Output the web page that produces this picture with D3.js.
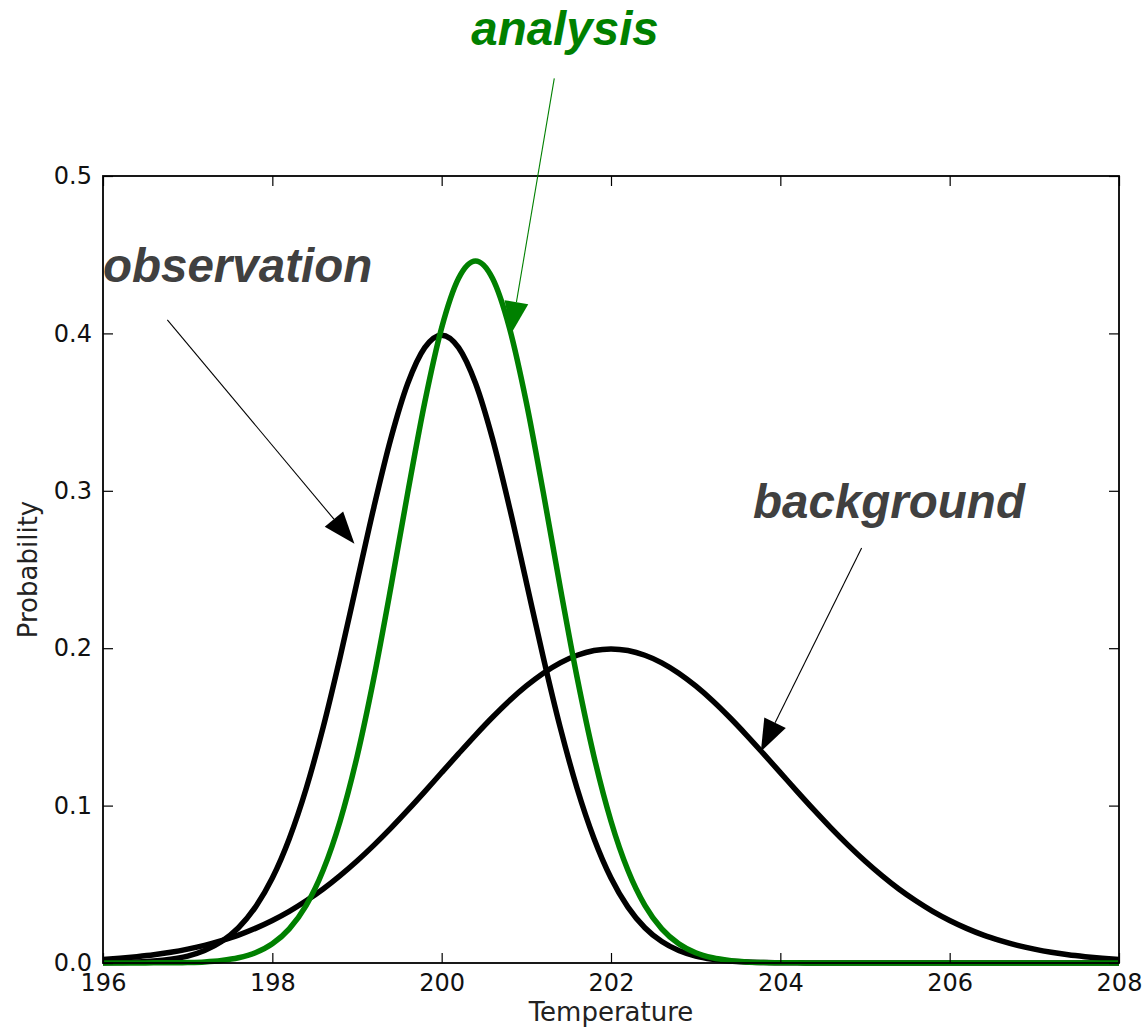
<!DOCTYPE html>
<html>
<head>
<meta charset="utf-8">
<script src="https://d3js.org/d3.v7.min.js"></script>
<style>
  html, body { margin: 0; padding: 0; background: #fff; }
  svg { display: block; }
</style>
</head>
<body>
<svg id="chart" width="1145" height="1028"></svg>
<script>
// Temperature grid, 196 to 208 in steps of 0.2
const temperature = d3.range(61).map(i => +(196 + i * 0.2).toFixed(1));

// Observation probability density (peak 0.399 at 200)
const observation = [
  0.0001, 0.0003, 0.0006, 0.0012, 0.0024, 0.0044, 0.0079, 0.0136, 0.0224, 0.0355,
  0.0540, 0.0790, 0.1109, 0.1497, 0.1942, 0.2420, 0.2897, 0.3332, 0.3683, 0.3910,
  0.3989,
  0.3910, 0.3683, 0.3332, 0.2897, 0.2420, 0.1942, 0.1497, 0.1109, 0.0790, 0.0540,
  0.0355, 0.0224, 0.0136, 0.0079, 0.0044, 0.0024, 0.0012, 0.0006, 0.0003, 0.0001,
  0.0001, 0.0000, 0.0000, 0.0000, 0.0000, 0.0000, 0.0000, 0.0000, 0.0000, 0.0000,
  0.0000, 0.0000, 0.0000, 0.0000, 0.0000, 0.0000, 0.0000, 0.0000, 0.0000, 0.0000
];

// Background probability density (peak 0.199 at 202)
const background = [
  0.0022, 0.0030, 0.0040, 0.0052, 0.0068, 0.0088, 0.0112, 0.0142, 0.0177, 0.0220,
  0.0270, 0.0328, 0.0395, 0.0470, 0.0555, 0.0648, 0.0749, 0.0857, 0.0971, 0.1089,
  0.1210, 0.1330, 0.1448, 0.1561, 0.1666, 0.1760, 0.1841, 0.1907, 0.1955, 0.1985,
  0.1995,
  0.1985, 0.1955, 0.1907, 0.1841, 0.1760, 0.1666, 0.1561, 0.1448, 0.1330, 0.1210,
  0.1089, 0.0971, 0.0857, 0.0749, 0.0648, 0.0555, 0.0470, 0.0395, 0.0328, 0.0270,
  0.0220, 0.0177, 0.0142, 0.0112, 0.0088, 0.0068, 0.0052, 0.0040, 0.0030, 0.0022
];

// Analysis probability density (peak 0.446 at 200.4)
const analysis = [
  0.0000, 0.0000, 0.0000, 0.0001, 0.0001, 0.0003, 0.0007, 0.0016, 0.0033, 0.0065,
  0.0122, 0.0217, 0.0366, 0.0589, 0.0901, 0.1310, 0.1813, 0.2387, 0.2990, 0.3562,
  0.4036, 0.4350,
  0.4460,
  0.4350, 0.4036, 0.3562, 0.2990, 0.2387, 0.1813, 0.1310, 0.0901, 0.0589, 0.0366,
  0.0217, 0.0122, 0.0065, 0.0033, 0.0016, 0.0007, 0.0003, 0.0001, 0.0001, 0.0000,
  0.0000, 0.0000, 0.0000, 0.0000, 0.0000, 0.0000, 0.0000, 0.0000, 0.0000, 0.0000,
  0.0000, 0.0000, 0.0000, 0.0000, 0.0000, 0.0000, 0.0000, 0.0000
];

const xTicks = [196, 198, 200, 202, 204, 206, 208];
const yTicks = [0.0, 0.1, 0.2, 0.3, 0.4, 0.5];

// Labels with the point each arrow starts from and the point it hits (data units)
const annotations = [
  { text: "observation", color: "#404040", from: [196.76, 0.4086], to: [198.97, 0.2664] },
  { text: "analysis",    color: "#008000", from: [201.33, 0.5620], to: [200.82, 0.3998] },
  { text: "background",  color: "#404040", from: [204.96, 0.2636], to: [203.77, 0.1344] }
];

const svg = d3.select("#chart");
const margin = { left: 103, right: 26, top: 176, bottom: 65 };
const W = 1145, H = 1028;
const iw = W - margin.left - margin.right;
const ih = H - margin.top - margin.bottom;

const x = d3.scaleLinear().domain([196, 208]).range([margin.left, margin.left + iw]);
const y = d3.scaleLinear().domain([0, 0.5]).range([margin.top + ih, margin.top]);

const tickFont = "'DejaVu Sans', sans-serif";

// Curves
const line = d3.line().x((d, i) => x(temperature[i])).y(d => y(d)).curve(d3.curveMonotoneX);
const series = [
  { values: background,  color: "#000000" },
  { values: observation, color: "#000000" },
  { values: analysis,    color: "#008000" }
];
svg.append("g").selectAll("path").data(series).join("path")
  .attr("d", d => line(d.values))
  .attr("fill", "none")
  .attr("stroke", d => d.color)
  .attr("stroke-width", 5.5)
  .attr("stroke-linejoin", "round");

// Axes with inward ticks on all four sides
const tickLen = 10;
const bottomAxis = d3.axisBottom(x).tickValues(xTicks).tickSizeInner(-tickLen).tickSizeOuter(0).tickPadding(11).tickFormat(d3.format("d"));
const topAxis = d3.axisTop(x).tickValues(xTicks).tickSizeInner(-tickLen).tickSizeOuter(0).tickFormat("");
const leftAxis = d3.axisLeft(y).tickValues(yTicks).tickSizeInner(-tickLen).tickSizeOuter(0).tickPadding(11).tickFormat(d3.format(".1f"));
const rightAxis = d3.axisRight(y).tickValues(yTicks).tickSizeInner(-tickLen).tickSizeOuter(0).tickFormat("");

function styleAxis(g) {
  g.select(".domain").remove();
  g.selectAll(".tick line").attr("stroke", "#000").attr("stroke-width", 1.2);
  g.selectAll(".tick text").attr("fill", "#111").style("font-family", tickFont).style("font-size", "24px");
}

svg.append("g").attr("transform", `translate(0,${margin.top + ih})`).call(bottomAxis).call(styleAxis);
svg.append("g").attr("transform", `translate(0,${margin.top})`).call(topAxis).call(styleAxis);
svg.append("g").attr("transform", `translate(${margin.left},0)`).call(leftAxis).call(styleAxis);
svg.append("g").attr("transform", `translate(${margin.left + iw},0)`).call(rightAxis).call(styleAxis);

// Frame
svg.append("rect")
  .attr("x", margin.left).attr("y", margin.top)
  .attr("width", iw).attr("height", ih)
  .attr("fill", "none").attr("stroke", "#000").attr("stroke-width", 1.8);

// Axis titles
svg.append("text")
  .attr("x", x(202)).attr("y", 1021)
  .attr("text-anchor", "middle")
  .style("font-family", tickFont).style("font-size", "26px").attr("fill", "#222")
  .text("Temperature");
svg.append("text")
  .attr("transform", `translate(37,${y(0.25)}) rotate(-90)`)
  .attr("text-anchor", "middle")
  .style("font-family", tickFont).style("font-size", "26px").attr("fill", "#222")
  .text("Probability");

// Annotations: bold italic labels with thin arrows ending in filled heads
const headLen = 32, headHalf = 12;
const ann = svg.append("g");
annotations.forEach(a => {
  const x0 = x(a.from[0]), y0 = y(a.from[1]);
  const x1 = x(a.to[0]), y1 = y(a.to[1]);
  const dx = x1 - x0, dy = y1 - y0, len = Math.hypot(dx, dy);
  const ux = dx / len, uy = dy / len;
  const bx = x1 - ux * headLen, by = y1 - uy * headLen;
  const c = a.color === "#008000" ? "#008000" : "#000";
  ann.append("line")
    .attr("x1", x0).attr("y1", y0).attr("x2", bx).attr("y2", by)
    .attr("stroke", c).attr("stroke-width", 1.1);
  ann.append("path")
    .attr("d", `M${x1},${y1}L${bx - uy * headHalf},${by + ux * headHalf}L${bx + uy * headHalf},${by - ux * headHalf}Z`)
    .attr("fill", c);
});

const labelPos = {
  observation: { x: 103, y: 282, anchor: "start" },
  analysis: { x: 565, y: 45, anchor: "middle" },
  background: { x: 889, y: 518, anchor: "middle" }
};
ann.selectAll("text.label").data(annotations).join("text")
  .attr("class", "label")
  .attr("x", d => labelPos[d.text].x)
  .attr("y", d => labelPos[d.text].y)
  .attr("text-anchor", d => labelPos[d.text].anchor)
  .attr("fill", d => d.color)
  .style("font-family", "'Liberation Sans', Arial, sans-serif")
  .style("font-weight", "bold").style("font-style", "italic")
  .style("font-size", "47.5px")
  .text(d => d.text);
</script>
</body>
</html>
